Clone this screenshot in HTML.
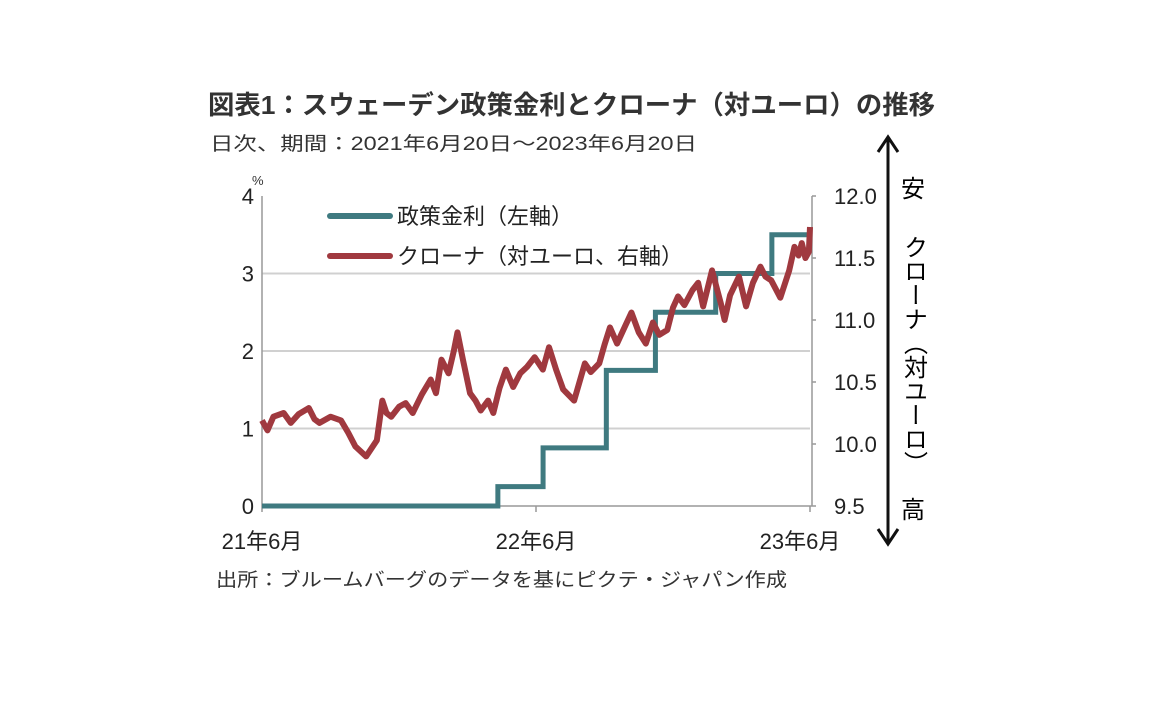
<!DOCTYPE html>
<html><head><meta charset="utf-8"><style>
body{margin:0;background:#fff;width:1152px;height:720px;overflow:hidden;font-family:"Liberation Sans","Noto Sans CJK JP",sans-serif;color:#222}
</style></head><body>
<svg width="1152" height="720" xmlns="http://www.w3.org/2000/svg" style="font-family:'Liberation Sans','Noto Sans CJK JP',sans-serif">
<text x="208" y="114" font-size="26" font-weight="bold" fill="#333" textLength="727" lengthAdjust="spacingAndGlyphs">図表1：スウェーデン政策金利とクローナ（対ユーロ）の推移</text>
<text x="210" y="150" font-size="19" fill="#333" textLength="487" lengthAdjust="spacingAndGlyphs">日次、期間：2021年6月20日～2023年6月20日</text>
<text x="252" y="185" font-size="13" fill="#333">%</text>
<g id="grid"></g>
<g id="axes"></g>
<g id="series"></g>
<g>
<line x1="330" y1="216" x2="390" y2="216" stroke="#3f7a80" stroke-width="6" stroke-linecap="round"/>
<text x="397" y="224" font-size="22" fill="#222">政策金利（左軸）</text>
<line x1="330" y1="256" x2="390" y2="256" stroke="#a0393f" stroke-width="6" stroke-linecap="round"/>
<text x="397" y="264" font-size="22" fill="#222">クローナ（対ユーロ、右軸）</text>
</g>
<g>
<line x1="888" y1="137" x2="888" y2="544" stroke="#111" stroke-width="3"/>
<polyline points="878,152 888,137 898,152" fill="none" stroke="#111" stroke-width="3"/>
<polyline points="878,529 888,544 898,529" fill="none" stroke="#111" stroke-width="3"/>
<text x="913" y="197" font-size="24" text-anchor="middle">安</text>
<text x="913" y="518" font-size="24" text-anchor="middle">高</text>
<text x="913" y="235" font-size="24" style="writing-mode:vertical-rl">クローナ（対ユーロ）</text>
</g>
<text x="216" y="586" font-size="19" fill="#333" textLength="571" lengthAdjust="spacingAndGlyphs">出所：ブルームバーグのデータを基にピクテ・ジャパン作成</text>
</svg>
<script>
const leftTicks=[0,1,2,3,4];
const rightTicks=["9.5","10.0","10.5","11.0","11.5","12.0"];
const xLabels=["21年6月","22年6月","23年6月"];
const xLabelMonths=[0,12,24];
const rateMonths=[0,10.33,12.31,15.08,17.23,19.87,22.33,24];
const rateValues=[0,0.25,0.75,1.75,2.5,3.0,3.5,3.5];
const kronaMonths=[0,0.24,0.5,0.95,1.26,1.6,2.05,2.3,2.52,3.0,3.46,3.78,4.09,4.56,5.03,5.27,5.45,5.66,6.0,6.29,6.6,7.0,7.39,7.62,7.86,8.17,8.4,8.56,8.8,9.11,9.35,9.58,9.9,10.13,10.4,10.68,11,11.31,11.6,11.94,12.3,12.57,12.88,13.19,13.67,14.14,14.4,14.77,15.0,15.24,15.55,15.9,16.18,16.5,16.81,17.12,17.4,17.75,18.0,18.22,18.5,18.85,19.1,19.32,19.71,20.1,20.26,20.5,20.89,21.2,21.5,21.83,22.05,22.3,22.5,22.7,23.09,23.32,23.5,23.64,23.8,23.95,24];
const kronaValues=[10.19,10.11,10.22,10.25,10.17,10.24,10.29,10.2,10.17,10.22,10.19,10.09,9.98,9.9,10.03,10.35,10.25,10.22,10.3,10.33,10.25,10.4,10.52,10.41,10.68,10.57,10.75,10.9,10.68,10.41,10.35,10.27,10.35,10.25,10.45,10.6,10.46,10.57,10.62,10.7,10.6,10.78,10.6,10.44,10.35,10.65,10.58,10.65,10.8,10.94,10.81,10.95,11.06,10.9,10.81,10.98,10.88,10.92,11.1,11.19,11.12,11.24,11.3,11.11,11.4,11.13,11.0,11.2,11.35,11.11,11.3,11.43,11.35,11.32,11.25,11.18,11.4,11.59,11.52,11.62,11.5,11.55,11.75];
const X0=262,X1=810,Y0=506,Y1=196;
const xs=m=>X0+(X1-X0)*m/24;
const yL=v=>Y0-(Y0-Y1)*v/4;
const yR=v=>Y0-(Y0-Y1)*(v-9.5)/2.5;
const NS="http://www.w3.org/2000/svg";
function mk(t,a,p){const e=document.createElementNS(NS,t);for(const k in a)e.setAttribute(k,a[k]);p.appendChild(e);return e;}
const grid=document.getElementById('grid'),axes=document.getElementById('axes'),ser=document.getElementById('series');
leftTicks.forEach(v=>{
 if(v>0&&v<4){const g=mk('line',{x1:X0,x2:X1,y1:yL(v),y2:yL(v),stroke:'#d0d0d0','stroke-width':2},grid);
 
 }
 const t=mk('text',{x:X0-8,y:yL(v)+8,'font-size':22,'text-anchor':'end',fill:'#222'},axes);t.textContent=v;
 
 
});
rightTicks.forEach(s=>{
 const v=parseFloat(s);
 mk('line',{x1:X1+2,x2:X1+6,y1:yR(v),y2:yR(v),stroke:'#999','stroke-width':1.5},axes);
 const t=mk('text',{x:834,y:yR(v)+8,'font-size':22,fill:'#222'},axes);t.textContent=s;
 
 
});
mk('line',{x1:X0,x2:X0,y1:Y1,y2:Y0,stroke:'#999','stroke-width':1.5},axes);
mk('line',{x1:X1+2,x2:X1+2,y1:Y1,y2:Y0,stroke:'#999','stroke-width':1.5},axes);
mk('line',{x1:X0,x2:X1+2,y1:Y0,y2:Y0,stroke:'#999','stroke-width':1.5},axes);
xLabelMonths.forEach((m,i)=>{
 mk('line',{x1:xs(m),x2:xs(m),y1:Y0,y2:Y0+6,stroke:'#999','stroke-width':1.5},axes);
 const t=mk('text',{x:xs(m)+(i==2?-10:0),y:549,'font-size':22,'text-anchor':'middle',fill:'#222'},axes);t.textContent=xLabels[i];
 
 
});
let d='';
rateMonths.forEach((m,i)=>{const x=xs(m),y=yL(rateValues[i]);if(i==0)d+='M'+x+','+y;else d+='H'+x+'V'+y;});
const rp=mk('path',{d:d,fill:'none',stroke:'#3f7a80','stroke-width':5},ser);


const kp=mk('polyline',{points:kronaMonths.map((m,i)=>xs(m)+','+yR(kronaValues[i])).join(' '),fill:'none',stroke:'#a0393f','stroke-width':6,'stroke-linejoin':'round'},ser);


</script>
</body></html>
